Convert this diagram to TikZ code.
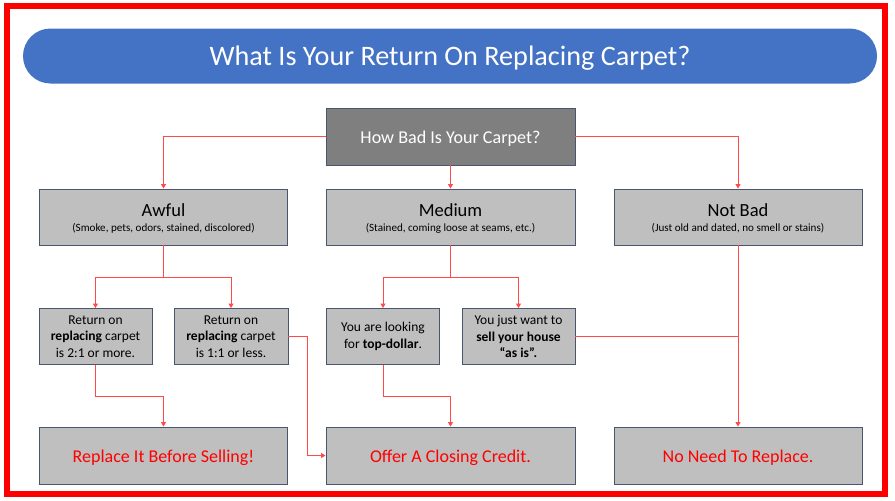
\documentclass[tikz,border=0pt]{standalone}
\usepackage{fontspec}
\setmainfont{Carlito}
\usetikzlibrary{arrows.meta}
\definecolor{boxfill}{HTML}{BFBFBF}
\definecolor{boxline}{HTML}{4A5670}
\definecolor{titleblue}{HTML}{4472C4}
\definecolor{darkbox}{HTML}{7F7F7F}
\definecolor{connred}{HTML}{FF4A4A}
\tikzset{
  box/.style={draw=boxline, fill=boxfill, line width=0.9pt, inner sep=0pt, align=center, minimum height=56pt},
  bigbox/.style={box, minimum width=248pt},
  smallbox/.style={box, minimum width=113pt, font=\fontsize{13.5}{16.5}\selectfont},
  result/.style={bigbox, minimum height=57pt, text=red, font=\fontsize{18}{21}\selectfont},
  conn/.style={draw=connred, line width=1pt, -{Triangle[width=5pt,length=4.5pt]}},
  connplain/.style={draw=connred, line width=1pt},
}
\newcommand{\lowerby}[2]{\raisebox{-#1}[\height][\depth]{#2}}
\newcommand{\headtxt}[2]{\lowerby{2.5pt}{\begin{tabular}{@{}c@{}}{\fontsize{18.5}{21}\selectfont #1}\\[2.5pt]{\fontsize{11.1}{13}\selectfont #2}\end{tabular}}}
\begin{document}
\begin{tikzpicture}[x=1pt,y=-1pt]
\useasboundingbox (0,0) rectangle (895,501);
\fill[white] (0,0) rectangle (895,501);
\draw[red, line width=6pt] (7,6) rectangle (884.5,494);
% title
\node[fill=titleblue, rounded corners=27.5pt, minimum width=854pt, minimum height=55pt, inner sep=0pt, text=white, font=\fontsize{28.2}{32}\selectfont] (title) at (450,56) {\lowerby{2pt}{What Is Your Return On Replacing Carpet?}};
% level 1
\node[box, fill=darkbox, minimum width=249pt, minimum height=57pt, text=white, font=\fontsize{18.1}{21}\selectfont] (how) at (450.5,136.5) {\lowerby{2pt}{How Bad Is Your Carpet?}};
% level 2
\node[bigbox] (awful) at (163.5,217) {\headtxt{Awful}{(Smoke, pets, odors, stained, discolored)}};
\node[bigbox, minimum width=249pt] (medium) at (450.5,217) {\headtxt{Medium}{(Stained, coming loose at seams, etc.)}};
\node[bigbox] (notbad) at (738,217) {\headtxt{Not Bad}{(Just old and dated, no smell or stains)}};
% level 3
\node[smallbox] (r1) at (95.5,336.5) {Return on\\\textbf{replacing} carpet\\is 2:1 or more.};
\node[smallbox, minimum width=114pt] (r2) at (231,336.5) {Return on\\\textbf{replacing} carpet\\is 1:1 or less.};
\node[smallbox] (m1) at (383,336.5) {You are looking\\for \textbf{top-dollar}.};
\node[smallbox] (m2) at (518.5,336.5) {You just want to\\\textbf{sell your house}\\\textbf{“as is”.}};
% results
\node[result] (replace) at (163.5,455.5) {\lowerby{2pt}{Replace It Before Selling!}};
\node[result, minimum width=249pt] (offer) at (450.5,455.5) {\lowerby{2pt}{Offer A Closing Credit.}};
\node[result] (noneed) at (738,455.5) {\lowerby{2pt}{No Need To Replace.}};
% connectors
\draw[conn] (how.west) -| (awful.north);
\draw[conn] (how.south) -- (medium.north);
\draw[conn] (how.east) -| (notbad.north);
\coordinate (ja) at (163.5,277);
\coordinate (jm) at (450.5,277);
\draw[connplain] (awful.south) -- (ja);
\draw[conn] (ja) -| (r1.north);
\draw[conn] (ja) -| (r2.north);
\draw[connplain] (medium.south) -- (jm);
\draw[conn] (jm) -| (m1.north);
\draw[conn] (jm) -| (m2.north);
\coordinate (jr) at (95.5,396);
\draw[conn] (r1.south) -- (jr) -| (replace.north);
\coordinate (jo) at (307.5,336.5);
\draw[conn] (r2.east) -- (jo) |- (offer.west);
\coordinate (jc) at (383,396);
\draw[conn] (m1.south) -- (jc) -| (offer.north);
\coordinate (jn) at (notbad.south |- m2.east);
\draw[connplain] (m2.east) -- (jn);
\draw[conn] (notbad.south) -- (noneed.north);
\end{tikzpicture}
\end{document}
